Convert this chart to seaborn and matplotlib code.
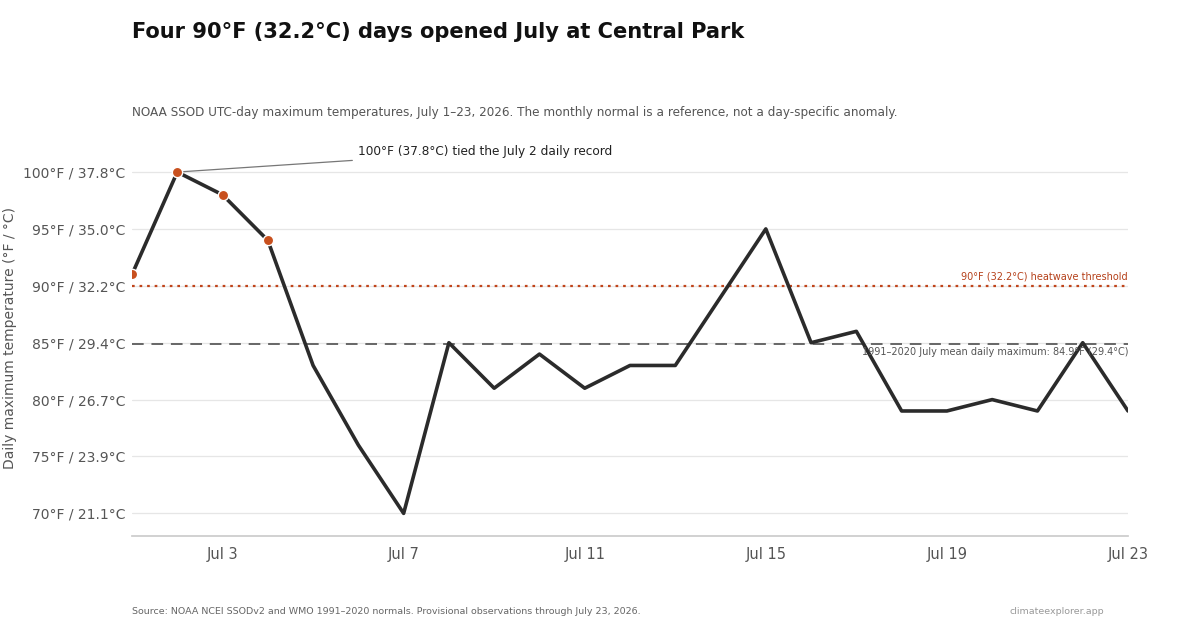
import pandas as pd
import seaborn as sns
import matplotlib
matplotlib.use("Agg")
import matplotlib.pyplot as plt

# July 2026 daily maximum temperatures, Central Park (°F)
days = list(range(1, 24))
tmax_f = [91, 100, 98, 94, 83, 76, 70, 85, 81, 84, 81, 83, 83, 89, 95, 85, 86, 79, 79, 80, 79, 85, 79]
hot_days = [1, 2, 3, 4]
hot_tmax = [91, 100, 98, 94]

threshold_f = 90
normal_f = 84.9
yticks_f = [70, 75, 80, 85, 90, 95, 100]
xticks_days = [3, 7, 11, 15, 19, 23]

df = pd.DataFrame({"day": days, "tmax": tmax_f})
hot = pd.DataFrame({"day": hot_days, "tmax": hot_tmax})

sns.set_theme(style="white")
plt.rcParams['font.family'] = ['DejaVu Sans']

fig = plt.figure(figsize=(12, 6.3), dpi=100)
ax = fig.add_axes([0.11, 0.149, 0.83, 0.605])

for t in yticks_f:
    ax.axhline(t, color="#e6e6e6", lw=0.9, zorder=0)

ax.axhline(threshold_f, color="#c0441a", lw=1.6, ls=(0, (1.2, 2.2)), zorder=1)
ax.axhline(normal_f, color="#666666", lw=1.4, ls=(0, (6, 4)), zorder=1)

sns.lineplot(data=df, x="day", y="tmax", ax=ax, color="#2b2b2b", lw=2.6, zorder=3)
sns.scatterplot(data=hot, x="day", y="tmax", ax=ax, color="#c8501e", s=55,
                edgecolor="white", linewidth=1, zorder=4)

ax.set_xlim(1, 23)
ax.set_ylim(68, 101.5)
ax.set_yticks(yticks_f)
ax.set_yticklabels([f"{t}°F / {(t - 32) * 5 / 9:.1f}°C" for t in yticks_f])
ax.set_xticks(xticks_days)
ax.set_xticklabels([f"Jul {d}" for d in xticks_days])
ax.tick_params(axis="y", length=0, labelsize=10, labelcolor="#555555", pad=5)
ax.tick_params(axis="x", length=0, labelsize=10.5, labelcolor="#555555", pad=8)
ax.set_xlabel("")
ax.set_ylabel("Daily maximum temperature (°F / °C)", fontsize=10, color="#555555")
ax.yaxis.set_label_coords(-0.1155, 0.52)

for s in ["top", "right", "left"]:
    ax.spines[s].set_visible(False)
ax.spines["bottom"].set_color("#cccccc")

ax.text(23, threshold_f + 0.4, "90°F (32.2°C) heatwave threshold", ha="right", va="bottom",
        fontsize=7, color="#b5401a")
ax.text(23, normal_f - 0.3, "1991–2020 July mean daily maximum: 84.9°F (29.4°C)", ha="right", va="top",
        fontsize=7, color="#555555")

ax.annotate("100°F (37.8°C) tied the July 2 daily record", xy=(2, 100), xytext=(6.0, 101.8),
            fontsize=8.75, color="#222222", va="center", annotation_clip=False,
            arrowprops=dict(arrowstyle="-", color="#777777", lw=0.9, shrinkA=2, shrinkB=0))

fig.text(0.11, 0.95, "Four 90°F (32.2°C) days opened July at Central Park", fontsize=15.1,
         fontweight="bold", color="#111111", va="center")
fig.text(0.11, 0.822, "NOAA SSOD UTC-day maximum temperatures, July 1–23, 2026. The monthly normal is a reference, not a day-specific anomaly.",
         fontsize=8.65, color="#555555", va="center")
fig.text(0.11, 0.03, "Source: NOAA NCEI SSODv2 and WMO 1991–2020 normals. Provisional observations through July 23, 2026.",
         fontsize=6.8, color="#666666", va="center")
fig.text(0.92, 0.03, "climateexplorer.app", fontsize=6.8, color="#999999", va="center", ha="right")

fig.savefig("out.png", dpi=100)
